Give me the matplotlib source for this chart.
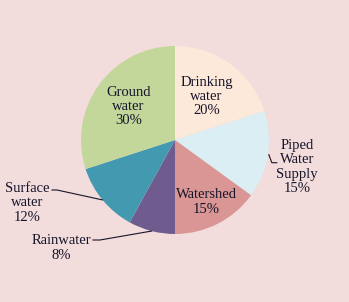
import numpy as np
from matplotlib import pyplot as plt

labels = ['Drinking\nwater', 'Piped\nWater\nSupply', 'Watershed', 'Rainwater', 'Surface\nwater', 'Ground\nwater']
values = [20, 15, 15, 8, 12, 30]
colors = ['#fde9d9', '#daeef3', '#d99694', '#705b8e', '#4299b0', '#c4d79b']

bg = '#f2dcdc'
txt = '#15152a'

fig = plt.figure(figsize=(3.49, 3.02), dpi=100, facecolor=bg)
ax = fig.add_axes([0, 0, 1, 1])

cx, cy, r = 175, 162, 94
wedges, _ = ax.pie(values, colors=colors, startangle=90, counterclock=False,
                   center=(cx, cy), radius=r, frame=True,
                   wedgeprops=dict(linewidth=0))
ax.set_xlim(0, 349)
ax.set_ylim(0, 302)
ax.set_aspect('equal')
ax.axis('off')

# inside labels: distance from centre in radii
inside = {0: 0.57, 2: 0.74, 5: 0.61}
font = dict(family='Liberation Serif', size=10.5, color=txt, ha='center', va='center', linespacing=1.12)

for i, w in enumerate(wedges):
    mid = np.deg2rad((w.theta1 + w.theta2) / 2)
    s = labels[i] + '\n%d%%' % values[i]
    if i in inside:
        d = inside[i] * r
        ax.text(cx + d * np.cos(mid), cy + d * np.sin(mid), s, **font)


def edge(i):
    m = np.deg2rad((wedges[i].theta1 + wedges[i].theta2) / 2)
    return cx + r * np.cos(m), cy + r * np.sin(m)


# Piped water supply (outside right, short hook)
ex, ey = edge(1)
ax.text(297, 135, labels[1] + '\n%d%%' % values[1], **font)
ax.plot([ex + 1, ex + 4, ex + 9], [ey, ey - 8, ey - 8], color=txt, lw=0.8)

# Surface water
ex, ey = edge(4)
ax.text(27, 99, labels[4] + '\n%d%%' % values[4], **font)
ax.plot([ex, 57, 52], [ey, 112, 112], color=txt, lw=0.8)

# Rainwater
ex, ey = edge(3)
ax.text(61, 54, labels[3] + '\n%d%%' % values[3], **font)
ax.plot([ex, 100, 93], [ey, 62, 62], color=txt, lw=0.8)

fig.savefig('out.png', dpi=100, facecolor=bg)
